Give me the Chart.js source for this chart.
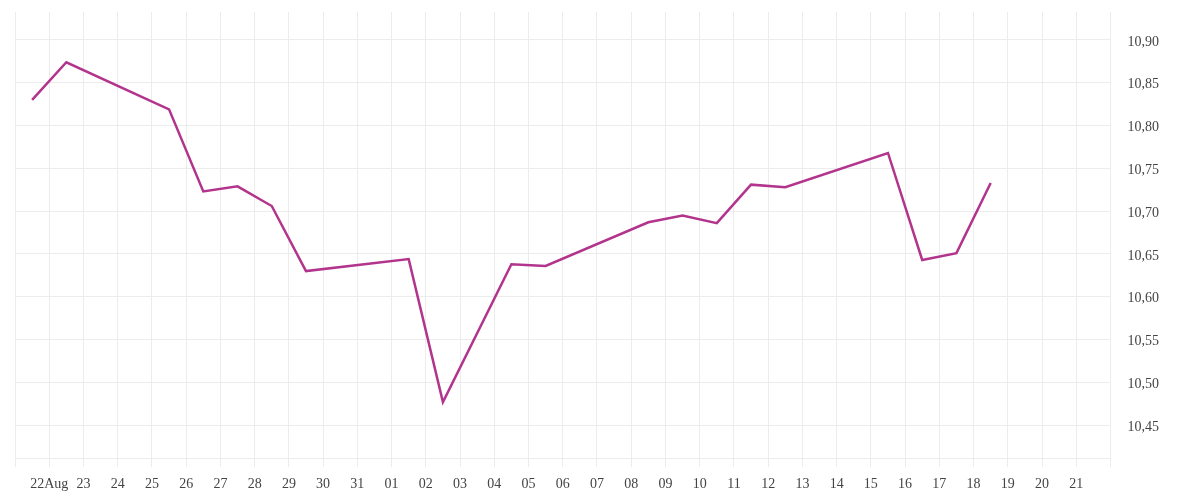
<!DOCTYPE html>
<html>
<head>
<meta charset="utf-8">
<script src="https://cdn.jsdelivr.net/npm/chart.js@4/dist/chart.umd.min.js"></script>
<style>
  html, body { margin: 0; padding: 0; background: #fff; }
  #wrap { width: 1200px; height: 500px; }
</style>
</head>
<body>
<div id="wrap"><canvas id="priceChart"></canvas></div>
<script>
// tick labels, one per day starting at 21 Aug (index 0) up to 22 Sep (index 32)
var dayLabels = ['', '22Aug', '23', '24', '25', '26', '27', '28', '29', '30', '31',
  '01', '02', '03', '04', '05', '06', '07', '08', '09', '10', '11', '12', '13',
  '14', '15', '16', '17', '18', '19', '20', '21', ''];

// point positions in days after 21 Aug 00:00
var pointDays = [0.5, 1.5, 4.5, 5.5, 6.5, 7.5, 8.5, 11.5, 12.5, 14.5, 15.5,
  18.5, 19.5, 20.5, 21.5, 22.5, 25.5, 26.5, 27.5, 28.5];

var prices = [10.830, 10.874, 10.819, 10.723, 10.729, 10.706, 10.630, 10.644,
  10.477, 10.638, 10.636, 10.687, 10.695, 10.686, 10.731, 10.728, 10.768,
  10.643, 10.651, 10.733];

var yTicks = [10.45, 10.50, 10.55, 10.60, 10.65, 10.70, 10.75, 10.80, 10.85, 10.90];

var points = pointDays.map(function (d, i) { return { x: d, y: prices[i] }; });

var gridColor = '#ececec';

var ctx = document.getElementById('priceChart').getContext('2d');
var chart = new Chart(ctx, {
    type: 'line',
    data: {
        datasets: [{
            label: 'Price',
            data: points,
            borderColor: '#b2348c',
            borderWidth: 2.5,
            pointRadius: 0,
            tension: 0,
            fill: false
        }]
    },
    options: {
      responsive: true,
      maintainAspectRatio: false,
      animation: false,
      layout: {
        padding: { left: 15, top: 12, right: 24, bottom: -2 }
      },
      plugins: {
        legend: { display: false },
        tooltip: { enabled: false }
      },
      scales: {
        x: {
          type: 'linear',
          min: 0,
          max: dayLabels.length - 1,
          grid: { color: gridColor, tickLength: 9 },
          border: { display: true, color: gridColor },
          ticks: {
            stepSize: 1,
            autoSkip: false,
            maxRotation: 0,
            padding: 9,
            color: '#444',
            font: { family: 'Liberation Serif', size: 14 },
            callback: function (value) { return dayLabels[value] || ''; }
          }
        },
        y: {
          position: 'right',
          min: 10.4114,
          max: 10.9327,
          afterBuildTicks: function (axis) {
            axis.ticks = yTicks.map(function (v) { return { value: v }; });
          },
          afterFit: function (axis) {
            // no extra room for half labels at the ends
            axis.paddingTop = 0;
            axis.paddingBottom = 0;
          },
          grid: { color: gridColor, drawTicks: false },
          border: { display: true, color: gridColor },
          ticks: {
            padding: 17,
            labelOffset: 2,
            color: '#444',
            font: { family: 'Liberation Serif', size: 14 },
            callback: function (value) { return value.toFixed(2).replace('.', ','); }
          }
        }
      }
    }
});
</script>
</body>
</html>
